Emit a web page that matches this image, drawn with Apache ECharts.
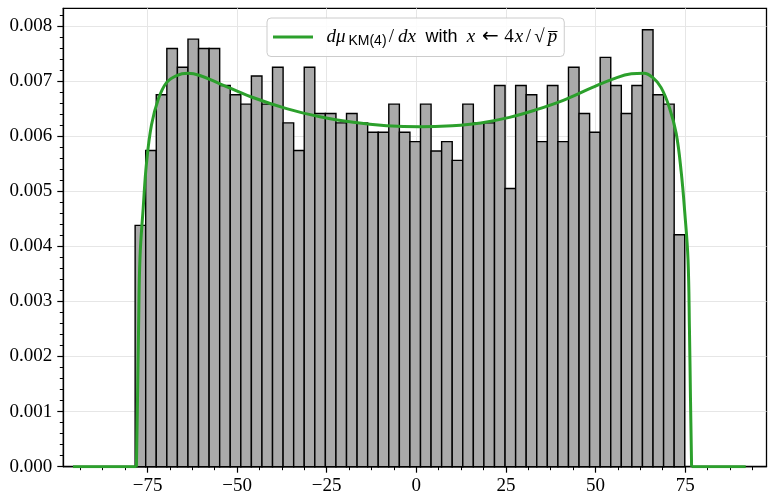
<!DOCTYPE html>
<html><head><meta charset="utf-8">
<script src="https://cdn.jsdelivr.net/npm/echarts@6/dist/echarts.min.js"></script>
<style>html,body{margin:0;padding:0;background:#fff}#c{width:768px;height:497px}</style>
</head><body><div id="c"></div>
<script>
// Histogram: first bin edge, bin width, bar heights (density)
const binStart = -78.46;
const binWidth = 2.949;
const binHeights = [
  0.00438, 0.00574, 0.00675, 0.00759, 0.00725, 0.00776, 0.00759, 0.00759, 0.00692, 0.00675,
  0.00658, 0.00709, 0.00658, 0.00725, 0.00624, 0.00574, 0.00725, 0.00641, 0.00641, 0.00624,
  0.00641, 0.00624, 0.00607, 0.00607, 0.00658, 0.00607, 0.00590, 0.00658, 0.00573, 0.00590,
  0.00556, 0.00658, 0.00624, 0.00624, 0.00692, 0.00505, 0.00692, 0.00675, 0.00590, 0.00692,
  0.00590, 0.00725, 0.00641, 0.00607, 0.00743, 0.00692, 0.00641, 0.00692, 0.00793, 0.00675,
  0.00658, 0.00421
];
// Density curve (support and zero tails)
const curveX = [-78.1, -78.0, -77.8, -77.5, -77.1, -76.2, -75.3, -73.9, -72.0, -69.7, -66.9,
  -63.7, -60.4, -54.8, -46.0, -36.2, -26.9, -17.6, -8.3, 1.0, 10.0, 18.0, 26.0, 33.0, 41.0, 49.0, 55.0,
  60.0, 63.5, 66.0, 68.3, 70.6, 72.5, 73.9, 74.9, 75.8, 76.2, 76.5, 76.7, 76.8];
const curveY = [0, 0.0004, 0.0012, 0.0025, 0.0038, 0.0047, 0.0055, 0.0062, 0.00667, 0.00697, 0.0071,
  0.00714, 0.00710, 0.00695, 0.00671, 0.00650, 0.00635, 0.00625, 0.00619, 0.00617, 0.00619, 0.00624, 0.00634,
  0.00647, 0.00665, 0.00688, 0.00704, 0.00713, 0.00714, 0.00706, 0.00688, 0.00652, 0.00605, 0.00535,
  0.00461, 0.00376, 0.0025, 0.0012, 0.0004, 0];
const tailLeftX = [-95.8, -78.1];
const tailRightX = [76.8, 91.9];
const xTickValues = [-75, -50, -25, 0, 25, 50, 75];
const xMinorTicks = [-93.75, -87.5, -81.25, -68.75, -62.5, -56.25, -43.75, -37.5, -31.25, -18.75, -12.5, -6.25,
  6.25, 12.5, 18.75, 31.25, 37.5, 43.75, 56.25, 62.5, 68.75, 81.25, 87.5, 93.75];
const yTickValues = [0, 0.001, 0.002, 0.003, 0.004, 0.005, 0.006, 0.007, 0.008];
const yMinorTicks = [0.0002, 0.0004, 0.0006, 0.0008, 0.0012, 0.0014, 0.0016, 0.0018, 0.0022, 0.0024, 0.0026, 0.0028,
  0.0032, 0.0034, 0.0036, 0.0038, 0.0042, 0.0044, 0.0046, 0.0048, 0.0052, 0.0054, 0.0056, 0.0058,
  0.0062, 0.0064, 0.0066, 0.0068, 0.0072, 0.0074, 0.0076, 0.0078, 0.0082];
const X_MIN = -98.5, X_MAX = 97.7, Y_MAX = 0.00832;

const histData = binHeights.map((h, i) => [binStart + i * binWidth, binStart + (i + 1) * binWidth, h]);
const curveData = curveX.map((x, i) => [x, curveY[i]]);
const green = '#2ca02c';
const serif = 'Liberation Serif';
const lineBase = {type: 'line', name: 'curve', xAxisIndex: 0, yAxisIndex: 0, z: 3, showSymbol: false, symbol: 'none',
  color: green, itemStyle: {color: green}, lineStyle: {color: green, width: 3, join: 'round'}};

const it = (w) => ({fontFamily: serif, fontStyle: 'italic', fontSize: 19, color: '#000', width: w, align: 'center'});
const up = (w) => ({fontFamily: serif, fontSize: 19, color: '#000', width: w, align: 'center'});

const chart = echarts.init(document.getElementById('c'), null, {renderer: 'canvas'});
chart.setOption({
  animation: false,
  backgroundColor: '#ffffff',
  grid: {left: 63.3, right: 1.5, top: 8.3, bottom: 30.3, show: true, borderColor: '#000', borderWidth: 1.3, backgroundColor: 'transparent'},
  legend: {
    show: true, selectedMode: false, left: 267, top: 18,
    data: [{name: 'curve', icon: 'rect'}],
    itemWidth: 40, itemHeight: 3,
    padding: [9, 7, 8, 6],
    backgroundColor: 'rgba(255,255,255,0.85)', borderColor: '#cccccc', borderWidth: 1, borderRadius: 4,
    formatter: () => '{p|}{dm|dμ}{s|KM(4)}{sl|/}{dx|dx}{b|with}{x1|x}{ar|←}{f|4}{x2|x}{sl2|/}{rt|√}{pp|p\u0305}',
    textStyle: {
      color: '#000',
      rich: {
        p: {width: 7},
        dm: it(22),
        s: {fontFamily: 'Liberation Sans', fontSize: 14, color: '#000', padding: [9, 0, 0, 1], width: 39},
        sl: up(9),
        dx: it(22),
        b: {fontFamily: 'Liberation Sans', fontSize: 18, color: '#000', padding: [0, 7, 0, 7], width: 33},
        x1: it(12),
        ar: {fontFamily: 'DejaVu Sans', fontSize: 20, color: '#000', width: 27, align: 'center'},
        f: up(10),
        x2: it(10),
        sl2: up(9),
        rt: up(13),
        pp: it(13)
      }
    }
  },
  xAxis: [{
    type: 'value', min: X_MIN, max: X_MAX, position: 'bottom',
    axisLine: {show: true, onZero: false, lineStyle: {color: '#000', width: 1.3}},
    axisTick: {show: true, customValues: xTickValues, length: 6, lineStyle: {color: '#000', width: 1.2}},
    axisLabel: {show: true, customValues: xTickValues, margin: 10, fontFamily: serif, fontSize: 19, color: '#000',
      formatter: v => v < 0 ? '\u2212' + Math.abs(v) : String(v)},
    splitLine: {show: true, lineStyle: {color: '#e6e6e6', width: 1}}
  }, {
    type: 'value', min: X_MIN, max: X_MAX, position: 'bottom',
    axisLine: {show: false, onZero: false},
    axisTick: {show: true, customValues: xMinorTicks, length: 3.5, lineStyle: {color: '#000', width: 1}},
    axisLabel: {show: false}, splitLine: {show: false}
  }],
  yAxis: [{
    type: 'value', min: 0, max: Y_MAX, position: 'left',
    axisLine: {show: true, onZero: false, lineStyle: {color: '#000', width: 1.3}},
    axisTick: {show: true, customValues: yTickValues, length: 6, lineStyle: {color: '#000', width: 1.2}},
    axisLabel: {show: true, customValues: yTickValues, margin: 11, fontFamily: serif, fontSize: 19, color: '#000',
      formatter: v => v.toFixed(3)},
    splitLine: {show: true, lineStyle: {color: '#e6e6e6', width: 1}}
  }, {
    type: 'value', min: 0, max: Y_MAX, position: 'left',
    axisLine: {show: false, onZero: false},
    axisTick: {show: true, customValues: yMinorTicks, length: 3.5, lineStyle: {color: '#000', width: 1}},
    axisLabel: {show: false}, splitLine: {show: false}
  }],
  series: [{
    type: 'custom', name: 'hist', xAxisIndex: 0, yAxisIndex: 0, z: 2,
    data: histData,
    encode: {x: [0, 1], y: 2},
    renderItem: (params, api) => {
      const p0 = api.coord([api.value(0), api.value(2)]);
      const p1 = api.coord([api.value(1), 0]);
      return {type: 'rect', shape: {x: p0[0], y: p0[1], width: p1[0] - p0[0], height: p1[1] - p0[1]},
        style: {fill: '#aaaaaa', stroke: '#000000', lineWidth: 1.4}};
    }
  },
  Object.assign({}, lineBase, {data: curveData, smooth: 0.4}),
  Object.assign({}, lineBase, {data: tailLeftX.map(x => [x, 0])}),
  Object.assign({}, lineBase, {data: tailRightX.map(x => [x, 0])})
  ]
});
</script></body></html>
